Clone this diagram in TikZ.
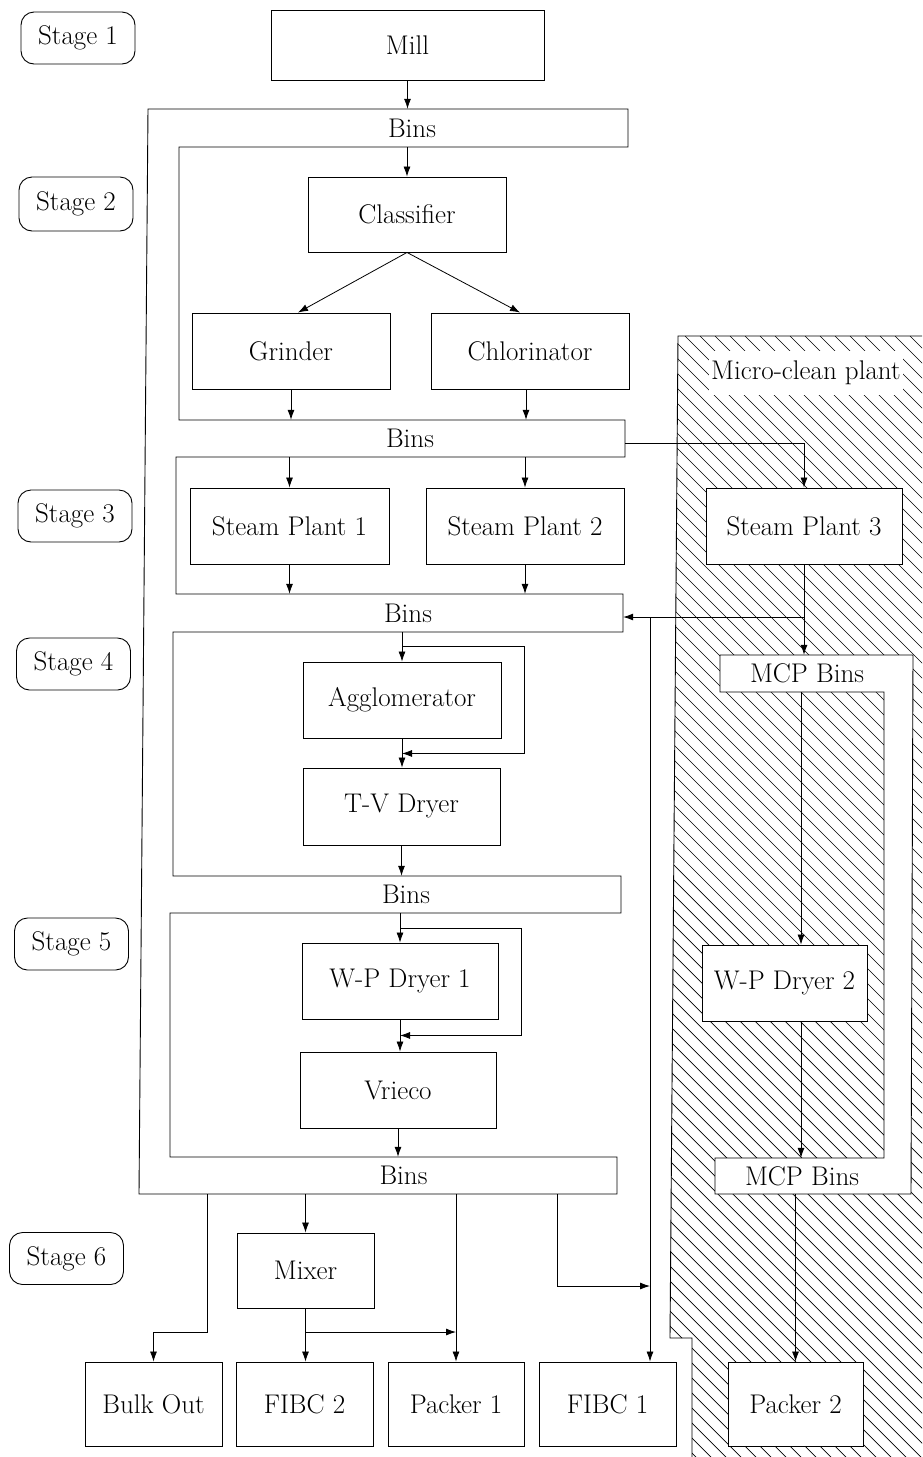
\documentclass[tikz,border=0pt]{standalone}
\usetikzlibrary{arrows.meta}
\begin{document}
\begin{tikzpicture}[x=1pt,y=-1pt,
  txt/.style={font=\fontsize{27}{31}\selectfont},
  box/.style={draw, line width=0.9pt, fill=white, rectangle, inner sep=0pt, txt},
  stagebox/.style={draw, line width=0.9pt, rounded corners=13pt, minimum width=114pt,
    minimum height=52pt, inner sep=0pt, txt},
  bar/.style={rectangle, inner sep=0pt, draw=none},
  lbl/.style={txt, inner sep=0pt},
  arr/.style={line width=0.8pt, -{Latex[length=10pt,width=7pt]}},
  frame/.style={line width=0.9pt},
  hatch/.style={line width=0.7pt},
]
\useasboundingbox (0,0) rectangle (922,1457);
\clip (0,0) rectangle (922,1457);

% ---- micro-clean plant area (hatched) ----
\begin{scope}
  \clip (678,336) -- (940,336) -- (940,1470) -- (692,1470) -- (692,1338) -- (670,1338) -- cycle;
  \foreach \x in {-470,-455,...,950}
    \draw[hatch] (\x,336) -- ++(1140,1140);
\end{scope}
\draw[frame] (940,336) -- (678,336) -- (670,1338) -- (692,1338) -- (692,1470);

% MCP bins with their side channel
\draw[frame, fill=white] (720,655) -- (913,655) -- (911,1194) -- (715,1194) -- (715,1158)
  -- (884,1158) -- (884,692) -- (720,692) -- cycle;

% ---- main bins comb ----
\draw[frame] (148,109) -- (628,109) -- (628,147) -- (179,147) -- (179,420) -- (625,420)
  -- (625,457) -- (176,457) -- (176,594) -- (623,594) -- (623,632) -- (173,632)
  -- (173,876) -- (621,876) -- (621,913) -- (170,913) -- (170,1157) -- (617,1157)
  -- (617,1194) -- (139,1194) -- cycle;

\node[bar, minimum width=480pt, minimum height=38pt, label={[lbl,xshift=24pt]center:Bins}] (bins1) at (388,128) {};
\node[bar, minimum width=480pt, minimum height=37pt, label={[lbl,xshift=25pt]center:Bins}] (bins2) at (385,438.5) {};
\node[bar, minimum width=480pt, minimum height=38pt, label={[lbl,xshift=25pt]center:Bins}] (bins3) at (383,613) {};
\node[bar, minimum width=480pt, minimum height=37pt, label={[lbl,xshift=25pt]center:Bins}] (bins4) at (381,894.5) {};
\node[bar, minimum width=479pt, minimum height=37pt, label={[lbl,xshift=26pt]center:Bins}] (bins5) at (377.5,1175.5) {};

\node[bar, minimum width=193pt, minimum height=37pt, label={[lbl,xshift=-9.5pt]center:MCP Bins}] (mcpA) at (816.5,673.5) {};
\node[bar, minimum width=196pt, minimum height=36pt, label={[lbl,xshift=-11pt]center:MCP Bins}] (mcpB) at (813,1176) {};

% ---- stage labels ----
\node[stagebox] (st1) at (78,38) {Stage 1};
\node[stagebox, minimum height=54pt] (st2) at (76,204) {Stage 2};
\node[stagebox] (st3) at (75,516) {Stage 3};
\node[stagebox] (st4) at (73.5,664) {Stage 4};
\node[stagebox] (st5) at (71.5,944) {Stage 5};
\node[stagebox] (st6) at (66.5,1258.5) {Stage 6};

% ---- process units ----
\node[box, minimum width=273pt, minimum height=70pt] (mill) at (407.5,45) {Mill};
\node[box, minimum width=198pt, minimum height=75pt] (classifier) at (407,214.5) {Classifier};
\node[box, minimum width=198pt, minimum height=76pt] (grinder) at (291,351) {Grinder};
\node[box, minimum width=198pt, minimum height=76pt] (chlor) at (530,351) {Chlorinator};
\node[box, minimum width=199pt, minimum height=76pt] (sp1) at (289.5,526) {Steam Plant 1};
\node[box, minimum width=198pt, minimum height=76pt] (sp2) at (525,526) {Steam Plant 2};
\node[box, minimum width=196pt, minimum height=76pt] (sp3) at (804,526) {Steam Plant 3};
\node[box, minimum width=198pt, minimum height=76pt] (agg) at (402,700) {Agglomerator};
\node[box, minimum width=197pt, minimum height=77pt] (tv) at (401.5,806.5) {T-V Dryer};
\node[box, minimum width=196pt, minimum height=76pt] (wp1) at (400,981) {W-P Dryer 1};
\node[box, minimum width=196pt, minimum height=76pt] (vrieco) at (398,1090) {Vrieco};
\node[box, minimum width=165pt, minimum height=76pt] (wp2) at (784.5,983) {W-P Dryer 2};
\node[box, minimum width=137pt, minimum height=75pt] (mixer) at (305.5,1270.5) {Mixer};
\node[box, minimum width=137pt, minimum height=84pt] (bulk) at (153.5,1404) {Bulk Out};
\node[box, minimum width=137pt, minimum height=84pt] (fibc2) at (304.5,1404) {FIBC 2};
\node[box, minimum width=136pt, minimum height=84pt] (packer1) at (456,1404) {Packer 1};
\node[box, minimum width=137pt, minimum height=84pt] (fibc1) at (607.5,1404) {FIBC 1};
\node[box, minimum width=135pt, minimum height=84pt] (packer2) at (795.5,1404) {Packer 2};

\node[txt, fill=white, inner xsep=2pt, inner ysep=10pt, anchor=west] (mcplabel) at (709,373) {Micro-clean plant};

% ---- helper coordinates for connector routing ----
\coordinate (fx) at (801,0);
\coordinate (row617) at (0,617);
\coordinate (jf) at (650,617);
\coordinate (row1286) at (0,1286);
\coordinate (row1332) at (0,1332);
\coordinate (bx) at (207,0);
\coordinate (fx1) at (557,0);

% ---- connectors: main line ----
\draw[arr] (mill.south) -- (mill.south |- bins1.north);
\draw[arr] (bins1.south -| classifier.north) -- (classifier.north);
\draw[arr] (classifier.south) -- ([xshift=7pt]grinder.north);
\draw[arr] (classifier.south) -- ([xshift=-10pt]chlor.north);
\draw[arr] (grinder.south) -- (grinder.south |- bins2.north);
\draw[arr] ([xshift=-4pt]chlor.south) -- ([xshift=-4pt]chlor.south |- bins2.north);
\draw[arr] (bins2.south -| sp1.north) -- (sp1.north);
\draw[arr] (bins2.south -| sp2.north) -- (sp2.north);
\draw[arr] (sp1.south) -- (sp1.south |- bins3.north);
\draw[arr] (sp2.south) -- (sp2.south |- bins3.north);
\draw[arr] (bins3.south -| agg.north) -- (agg.north);
\draw[arr] ([yshift=15pt]agg.north) -| ([xshift=23pt,yshift=-15pt]agg.south east) -- ([yshift=-15pt]agg.south);
\draw[arr] (agg.south) -- (agg.south |- tv.north);
\draw[arr] (tv.south) -- (tv.south |- bins4.north);
\draw[arr] (bins4.south -| wp1.north) -- (wp1.north);
\draw[arr] ([yshift=14pt]wp1.north) -| ([xshift=23pt,yshift=-16pt]wp1.south east) -- ([yshift=-16pt]wp1.south);
\draw[arr] (wp1.south) -- (wp1.south |- vrieco.north);
\draw[arr] (vrieco.south) -- (vrieco.south |- bins5.north);

% ---- connectors: micro-clean plant ----
\draw[arr] ([yshift=-4.5pt]bins2.east) -| (sp3.north);
\draw[arr] (sp3.south) -- (sp3.south |- mcpA.north);
\draw[arr] (sp3.south |- row617) -- (bins3.east |- row617);
\draw[arr] (jf) -- (jf |- fibc1.north);
\draw[arr] (mcpA.south -| fx) -- (wp2.north -| fx);
\draw[arr] (wp2.south -| fx) -- (mcpB.north -| fx);
\draw[arr] (mcpB.south -| packer2.north) -- (packer2.north);

% ---- connectors: stage 6 ----
\draw[arr] (bins5.south -| bx) -- (bx |- row1332) -| (bulk.north);
\draw[arr] (bins5.south -| mixer.north) -- (mixer.north);
\draw[arr] (mixer.south) -- (mixer.south |- fibc2.north);
\draw[arr] (mixer.south |- row1332) -- (packer1.north |- row1332);
\draw[arr] (bins5.south -| packer1.north) -- (packer1.north);
\draw[arr] (bins5.south -| fx1) -- (fx1 |- row1286) -- (jf |- row1286);
\end{tikzpicture}
\end{document}
